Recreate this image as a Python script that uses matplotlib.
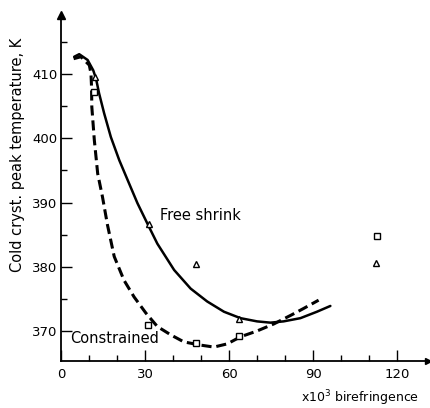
import numpy as np
import matplotlib.pyplot as plt

# measured points (x10^3 birefringence, K)
free_x = [12.2, 31.3, 48.1, 63.7, 112.5]
free_y = [409.5, 386.6, 380.5, 371.8, 380.6]
con_x = [11.9, 30.9, 48.1, 63.5, 113.0]
con_y = [407.2, 371.0, 368.1, 369.2, 384.8]

# hand-drawn curves
free_curve_x = [4.7, 6.5, 9.5, 11.5, 12.5, 13.6, 15.4, 17.8, 20.8, 23.8, 27.3, 31.1,
                34.4, 40.4, 46.3, 52.2, 58.2, 64.1, 70.0, 74.8, 79.5, 85.5, 91.4, 96.2]
free_curve_y = [412.7, 413.1, 412.2, 410.6, 409.3, 407.0, 403.9, 400.2, 396.6, 393.5, 389.9, 386.5,
                383.6, 379.5, 376.6, 374.6, 373.0, 372.0, 371.5, 371.3, 371.5, 372.0, 373.0, 373.9]
con_curve_x = [4.5, 7.1, 10.1, 10.7, 10.9, 11.0, 11.9, 13.1, 14.8, 16.6, 19.0, 22.5, 26.1,
               30.3, 34.4, 39.2, 43.9, 49.9, 54.6, 59.4, 64.1, 70.0, 76.0, 82.3, 86.6, 92.0]
con_curve_y = [412.4, 412.7, 411.4, 410.1, 408.0, 404.9, 399.7, 394.5, 390.9, 386.5, 381.6, 377.9, 375.3,
               372.8, 370.7, 369.4, 368.3, 367.8, 367.5, 368.0, 369.1, 370.0, 371.1, 372.5, 373.5, 374.8]

xticks = [0, 30, 60, 90, 120]
yticks = [370, 380, 390, 400, 410]

fig = plt.figure(figsize=(4.3, 4.08), dpi=100)
ax = fig.add_axes([0.1419, 0.1152, 0.853, 0.848])

ax.plot(free_curve_x, free_curve_y, color='black', lw=1.8, solid_capstyle='round', solid_joinstyle='round')
ax.plot(con_curve_x, con_curve_y, color='black', lw=2.2, linestyle=(0, (3.3, 1.6)), dash_joinstyle='round')
ax.plot(free_x, free_y, linestyle='none', marker='^', ms=5, mfc='white', mec='black', mew=1.0)
ax.plot(con_x, con_y, linestyle='none', marker='s', ms=4.5, mfc='white', mec='black', mew=1.0)

ax.text(35.3, 388.0, 'Free shrink', fontsize=10.5, va='center', ha='left')
ax.text(3.4, 368.8, 'Constrained', fontsize=10.5, va='center', ha='left')

ax.set_xlim(0, 131)
ax.set_ylim(365.33, 419.2)
ax.set_xticks(xticks)
ax.set_yticks(yticks)
ax.set_xticks(np.arange(10, 130, 10), minor=True)
ax.set_yticks(np.arange(375, 420, 10), minor=True)
ax.tick_params(direction='in', length=8, width=1, labelsize=9.5)
ax.tick_params(axis='y', pad=2.5)
ax.tick_params(axis='x', pad=5)
ax.tick_params(which='minor', direction='in', length=4.5, width=1)

for s in ['top', 'right']:
    ax.spines[s].set_visible(False)
for s in ['left', 'bottom']:
    ax.spines[s].set_linewidth(1.3)

# axis arrows
ax.plot(0, 1, '^k', ms=6, transform=ax.transAxes, clip_on=False)
ax.plot(1, 0, '>k', ms=5, transform=ax.transAxes, clip_on=False)

ax.set_ylabel('Cold cryst. peak temperature, K', fontsize=10.5)
ax.yaxis.set_label_coords(-0.097, 0.595)
ax.set_xlabel('x10$^3$ birefringence', fontsize=9, ha='right')
ax.xaxis.set_label_coords(0.975, -0.08)

fig.savefig('out.png', dpi=100)
